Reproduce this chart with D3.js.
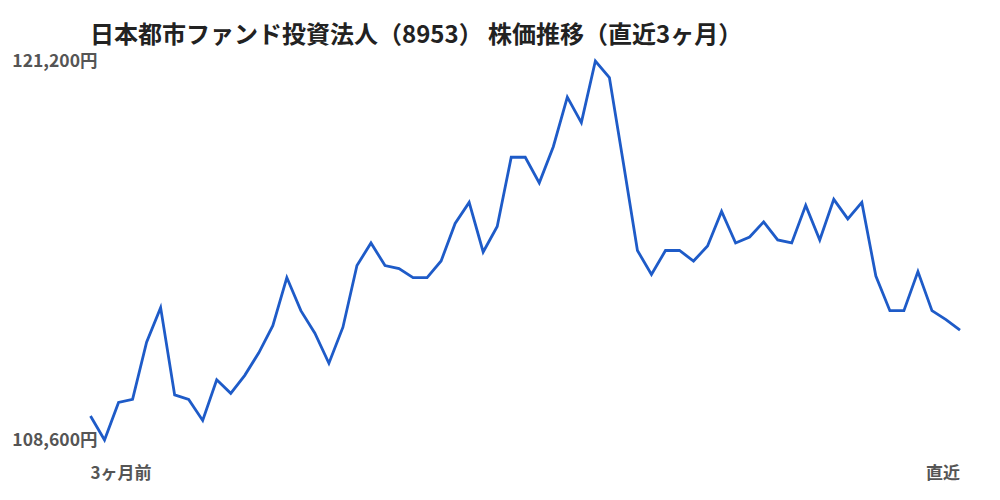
<!DOCTYPE html>
<html><head><meta charset="utf-8">
<script src="https://cdn.jsdelivr.net/npm/d3@7"></script>
<style>
body{margin:0;background:#fff;}
text{font-family:"Noto Sans CJK JP","Noto Sans",sans-serif;}
</style></head>
<body>
<svg id="c" width="1000" height="500"></svg>
<script>
const title = "日本都市ファンド投資法人（8953） 株価推移（直近3ヶ月）";
const xLabels = ["3ヶ月前", "直近"];
const yTickValues = [108600, 121200];
const prices = [
 109400,108600,109850,109950,111850,113000,110100,109950,109250,110600,
 110150,110750,111500,112400,114000,112900,112150,111150,112350,114400,
 115150,114400,114300,114000,114000,114550,115800,116500,114850,115700,
 118000,118000,117150,118350,120000,119150,121200,120650,117800,114900,
 114100,114900,114900,114550,115050,116200,115150,115350,115850,115250,
 115150,116400,115250,116600,115950,116500,114050,112900,112900,114200,
 112900,112600,112250
];

const svg = d3.select("#c");
const x = d3.scaleLinear().domain([0, prices.length - 1]).range([90.5, 960]);
const y = d3.scaleLinear().domain([108600, 121200]).range([440, 61]);

svg.append("text").attr("x", 90).attr("y", 43)
  .attr("font-size", 24).attr("font-weight", 700).attr("fill", "#222")
  .text(title);

svg.append("path").datum(prices)
  .attr("fill", "none").attr("stroke", "#1e5bc8").attr("stroke-width", 2.8)
  .attr("stroke-linejoin", "miter")
  .attr("d", d3.line().x((d, i) => x(i)).y(d => y(d)));

svg.selectAll(".yl").data(yTickValues).enter().append("text")
  .attr("class", "yl")
  .attr("x", 97.5).attr("y", d => y(d)).attr("dy", "0.35em")
  .attr("text-anchor", "end").attr("font-size", 17.5).attr("font-weight", 700)
  .attr("fill", "#555")
  .text(d => d3.format(",")(d) + "円");

svg.append("text").attr("x", 90.5).attr("y", 479)
  .attr("font-size", 17).attr("font-weight", 700).attr("fill", "#555")
  .text(xLabels[0]);
svg.append("text").attr("x", 960).attr("y", 479).attr("text-anchor", "end")
  .attr("font-size", 17).attr("font-weight", 700).attr("fill", "#555")
  .text(xLabels[1]);
</script>
</body></html>
